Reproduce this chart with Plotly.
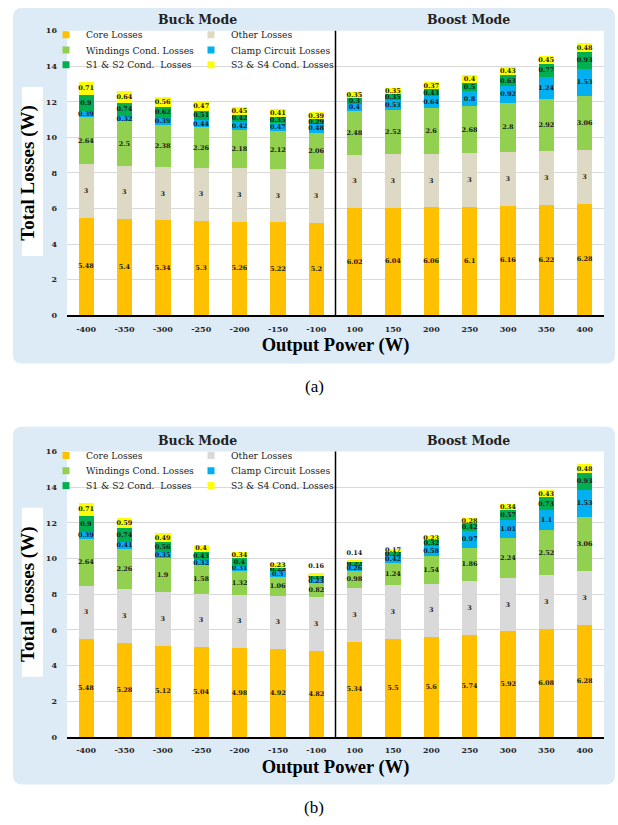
import plotly.graph_objects as go

# ---- data -------------------------------------------------------------
powers = ["-400", "-350", "-300", "-250", "-200", "-150", "-100",
          "100", "150", "200", "250", "300", "350", "400"]

series_names = ["Core Losses", "Other Losses", "Windings Cond. Losses",
                "Clamp Circuit Losses", "S1 & S2 Cond.\u00a0 Losses",
                "S3 & S4 Cond. Losses"]

# (a)
core_a = [5.48, 5.4, 5.34, 5.3, 5.26, 5.22, 5.2, 6.02, 6.04, 6.06, 6.1, 6.16, 6.22, 6.28]
other_a = [3, 3, 3, 3, 3, 3, 3, 3, 3, 3, 3, 3, 3, 3]
wind_a = [2.64, 2.5, 2.38, 2.26, 2.18, 2.12, 2.06, 2.48, 2.52, 2.6, 2.68, 2.8, 2.92, 3.06]
clamp_a = [0.39, 0.32, 0.39, 0.44, 0.42, 0.47, 0.48, 0.4, 0.53, 0.64, 0.8, 0.92, 1.24, 1.53]
s12_a = [0.9, 0.74, 0.62, 0.51, 0.42, 0.35, 0.29, 0.3, 0.35, 0.43, 0.5, 0.63, 0.77, 0.93]
s34_a = [0.71, 0.64, 0.56, 0.47, 0.45, 0.41, 0.39, 0.35, 0.35, 0.37, 0.4, 0.43, 0.45, 0.48]

# (b)
core_b = [5.48, 5.28, 5.12, 5.04, 4.98, 4.92, 4.82, 5.34, 5.5, 5.6, 5.74, 5.92, 6.08, 6.28]
other_b = [3, 3, 3, 3, 3, 3, 3, 3, 3, 3, 3, 3, 3, 3]
wind_b = [2.64, 2.26, 1.9, 1.58, 1.32, 1.06, 0.82, 0.98, 1.24, 1.54, 1.86, 2.24, 2.52, 3.06]
clamp_b = [0.39, 0.41, 0.35, 0.32, 0.31, 0.3, 0.23, 0.26, 0.42, 0.58, 0.97, 1.01, 1.1, 1.53]
s12_b = [0.9, 0.74, 0.56, 0.43, 0.4, 0.22, 0.15, 0.22, 0.22, 0.32, 0.42, 0.57, 0.73, 0.93]
s34_b = [0.71, 0.59, 0.49, 0.4, 0.34, 0.23, 0.16, 0.14, 0.17, 0.23, 0.28, 0.34, 0.43, 0.48]

colors_a = ["#FFC000", "#DDD9C4", "#92D050", "#00B0F0", "#00B050", "#FFFF00"]
colors_b = ["#FFC000", "#D9D9D9", "#92D050", "#00B0F0", "#00B050", "#FFFF00"]

# ---- geometry (pixels) ------------------------------------------------
W, H = 618, 825


def px(x):
    return x / W


def py(y):
    return 1 - y / H


SERIF = "DejaVu Serif"
TIMES = "Liberation Serif"

panels = [
    dict(series=[core_a, other_a, wind_a, clamp_a, s12_a, s34_a], colors=colors_a,
         xa="x", ya="y", top=26, bottom=314, box=(13, 3, 615, 363), tag="(a)", tag_y=386,
         legends=["legend", "legend2", "legend3"]),
    dict(series=[core_b, other_b, wind_b, clamp_b, s12_b, s34_b], colors=colors_b,
         xa="x2", ya="y2", top=452, bottom=741, box=(13, 427, 615, 789), tag="(b)", tag_y=812,
         legends=["legend4", "legend5", "legend6"]),
]
PLOT_L, PLOT_R = 67, 604

fig = go.Figure()

for p in panels:
    n_series = len(p["series"])
    for i, (name, vals, col) in enumerate(zip(series_names, p["series"], p["colors"])):
        if i == n_series - 1:
            # very thin top segments carry their value just above the bar
            tpos = ["outside" if v < 0.17 else "inside" for v in vals]
        else:
            tpos = "inside"
        fig.add_trace(go.Bar(
            x=powers, y=vals, name=name, marker=dict(color=col, line=dict(width=0)),
            xaxis=p["xa"], yaxis=p["ya"], showlegend=False,
            texttemplate="%{y}", textposition=tpos, insidetextanchor="middle",
            constraintext="none", textangle=0, cliponaxis=False,
            textfont=dict(family=SERIF, size=6.5, color="#1a1a1a", weight="bold"),
            hoverinfo="skip",
        ))
    # legend entries: two per row, three rows
    for i, (name, col) in enumerate(zip(series_names, p["colors"])):
        fig.add_trace(go.Scatter(
            x=[None], y=[None], mode="markers", name=name,
            marker=dict(symbol="square", size=7, color=col),
            xaxis=p["xa"], yaxis=p["ya"], legend=p["legends"][i // 2], hoverinfo="skip",
        ))

shapes = []
annotations = []


def rounded_rect(x0, y0, x1, y1, r):
    return (f"M {px(x0 + r)},{py(y0)} L {px(x1 - r)},{py(y0)} "
            f"Q {px(x1)},{py(y0)} {px(x1)},{py(y0 + r)} L {px(x1)},{py(y1 - r)} "
            f"Q {px(x1)},{py(y1)} {px(x1 - r)},{py(y1)} L {px(x0 + r)},{py(y1)} "
            f"Q {px(x0)},{py(y1)} {px(x0)},{py(y1 - r)} L {px(x0)},{py(y0 + r)} "
            f"Q {px(x0)},{py(y0)} {px(x0 + r)},{py(y0)} Z")


layout_axes = {}
legend_rows = [30, 45.5, 60.5]
for k, p in enumerate(panels):
    bx0, by0, bx1, by1 = p["box"]
    shapes.append(dict(type="path", xref="paper", yref="paper", layer="below",
                       path=rounded_rect(bx0, by0, bx1, by1, 9),
                       fillcolor="#DDEBF7", line=dict(width=0)))
    # white panel behind the y-axis title
    shapes.append(dict(type="rect", xref="paper", yref="paper", layer="below",
                       x0=px(22), x1=px(43), y0=py(p["top"] + 57), y1=py(p["top"] + 228),
                       fillcolor="white", line=dict(width=0)))
    xd = "x domain" if k == 0 else "x2 domain"
    yd = "y domain" if k == 0 else "y2 domain"
    shapes.append(dict(type="rect", xref=xd, yref=yd, layer="below",
                       x0=0, x1=1, y0=0, y1=1, fillcolor="white", line=dict(width=0)))
    # buck / boost divider
    shapes.append(dict(type="line", xref=p["xa"], yref=yd, x0=6.5, x1=6.5, y0=0, y1=1,
                       line=dict(color="black", width=1.5)))

    mid_y = py(p["top"] - 11)
    annotations.append(dict(text="Buck Mode", xref="paper", yref="paper",
                            x=px(197), y=mid_y, xanchor="center", yanchor="middle",
                            showarrow=False,
                            font=dict(family=SERIF, size=12.5, color="#222", weight="bold")))
    annotations.append(dict(text="Boost Mode", xref="paper", yref="paper",
                            x=px(468), y=mid_y, xanchor="center", yanchor="middle",
                            showarrow=False,
                            font=dict(family=SERIF, size=12.5, color="#222", weight="bold")))
    annotations.append(dict(text=p["tag"], xref="paper", yref="paper",
                            x=px(314), y=py(p["tag_y"]), xanchor="center", yanchor="middle",
                            showarrow=False,
                            font=dict(family=TIMES, size=17, color="black")))

    sfx = "" if k == 0 else "2"
    layout_axes["xaxis" + sfx] = dict(
        domain=[px(PLOT_L), px(PLOT_R)], anchor="y" + sfx, type="category",
        categoryorder="array", categoryarray=powers, range=[-0.5, 13.5],
        showline=True, linecolor="black", linewidth=1.5, ticks="", showgrid=False,
        ticklabelstandoff=5,
        tickfont=dict(family=SERIF, size=8, color="#262626", weight="bold"),
        title=dict(text="Output Power (W)", standoff=6,
                   font=dict(family=TIMES, size=18.5, color="black", weight="bold")),
    )
    layout_axes["yaxis" + sfx] = dict(
        domain=[py(p["bottom"]), py(p["top"])], anchor="x" + sfx, range=[0, 16],
        dtick=2, showgrid=True, gridcolor="#D9D9D9", gridwidth=1, zeroline=False,
        showline=False, ticks="", ticklabelstandoff=9,
        tickfont=dict(family=SERIF, size=8, color="#262626", weight="bold"),
        title=dict(text="Total Losses (W)", standoff=6,
                   font=dict(family=TIMES, size=19, color="black", weight="bold")),
    )

    for r, leg in enumerate(p["legends"]):
        layout_axes[leg] = dict(
            orientation="h", x=px(46), xanchor="left",
            y=py(p["top"] - 26 + legend_rows[r]), yanchor="middle",
            bgcolor="rgba(0,0,0,0)", borderwidth=0, entrywidth=100,
            entrywidthmode="pixels", traceorder="normal",
            font=dict(family=SERIF, size=9.2, color="#222"),
        )

fig.update_layout(
    width=W, height=H, margin=dict(l=0, r=0, t=0, b=0),
    paper_bgcolor="white", plot_bgcolor="white",
    barmode="stack", bargap=0.6,
    shapes=shapes, annotations=annotations,
    **layout_axes,
)

fig.write_html("out.html")
